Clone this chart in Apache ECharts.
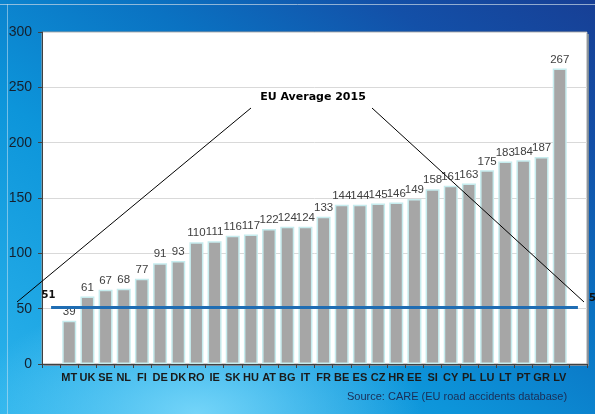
<!DOCTYPE html>
<html><head><meta charset="utf-8">
<script src="https://cdn.jsdelivr.net/npm/echarts@6/dist/echarts.min.js"></script>
<style>
html,body{margin:0;padding:0;}
#c{width:595px;height:414px;background:
  radial-gradient(ellipse 38% 30% at 33% 100%, rgba(120,215,250,0.95) 0%, rgba(120,215,250,0.5) 45%, rgba(120,215,250,0) 100%),
  linear-gradient(to top right, #2cb4ec 0%, #0d95da 38%, #0a72c2 62%, #1350a8 82%, #173f95 100%);}
</style></head>
<body><div id="c"></div>
<script>
var countries = ['MT','UK','SE','NL','FI','DE','DK','RO','IE','SK','HU','AT','BG','IT','FR','BE','ES','CZ','HR','EE','SI','CY','PL','LU','LT','PT','GR','LV'];
var values = [39,61,67,68,77,91,93,110,111,116,117,122,124,124,133,144,144,145,146,149,158,161,163,175,183,184,187,267];
var euAverage = 51;
var yTicks = [0,50,100,150,200,250,300];

var cats = [''].concat(countries).concat(['']);
var barData = ['-'].concat(values).concat(['-']);

var chart = echarts.init(document.getElementById('c'), null, {renderer:'canvas'});
chart.setOption({
  animation:false,
  grid:{left:42,right:8,top:32,bottom:50,show:true,backgroundColor:'#ffffff',borderColor:'#a0a0a0',borderWidth:1},
  xAxis:{type:'category',data:cats,
    axisLine:{lineStyle:{color:'#404040',width:1}},
    axisTick:{show:true,length:4,lineStyle:{color:'#404040'}},
    axisLabel:{interval:0,margin:8,color:'#1a1a1a',fontFamily:'Liberation Sans, Arial',fontWeight:'bold',fontSize:11}
  },
  yAxis:{type:'value',min:yTicks[0],max:yTicks[yTicks.length-1],interval:50,
    axisLine:{show:true,lineStyle:{color:'#404040'}},
    axisTick:{show:true,length:4,lineStyle:{color:'#404040'}},
    axisLabel:{color:'#15202e',fontFamily:'Liberation Sans, Arial',fontSize:14,margin:10},
    splitLine:{lineStyle:{color:'#d9d9d9',width:1}}
  },
  series:[{
    type:'bar',data:barData,barWidth:14,
    itemStyle:{color:'#a6a6a6',borderColor:'#c6ecee',borderWidth:1.5},
    label:{show:true,position:'top',distance:3,color:'#404040',fontFamily:'Liberation Sans, Arial',fontSize:11.5},
    markLine:{silent:true,symbol:'none',
      lineStyle:{color:'#1f6db3',width:3,type:'solid'},
      label:{show:false},
      data:[[{coord:[0,euAverage]},{coord:[cats.length-1,euAverage]}]],
      z:5
    }
  }],
  graphic:[
    {type:'rect',shape:{x:44,y:34,width:545,height:332},style:{fill:'#7a8a9a'},z:-1,silent:true},
    {type:'line',shape:{x1:0,y1:4.5,x2:595,y2:4.5},style:{stroke:'rgba(200,215,230,0.7)',lineWidth:1},silent:true},
    {type:'line',shape:{x1:7.5,y1:4,x2:7.5,y2:414},style:{stroke:'rgba(200,225,240,0.55)',lineWidth:1},silent:true},
    {type:'text',x:313,y:97,style:{text:'EU Average 2015',font:'bold 11px DejaVu Sans',fill:'#000',textAlign:'center',textVerticalAlign:'middle'},z:10},
    {type:'line',shape:{x1:251,y1:108,x2:17,y2:302},style:{stroke:'#000',lineWidth:1},z:10},
    {type:'line',shape:{x1:372,y1:108,x2:584,y2:302},style:{stroke:'#000',lineWidth:1},z:10},
    {type:'text',x:48.5,y:295,style:{text:String(euAverage),font:'bold 10px DejaVu Sans',fill:'#111',textAlign:'center',textVerticalAlign:'middle'},z:10},
    {type:'text',x:589,y:298,style:{text:String(euAverage),font:'bold 10px DejaVu Sans',fill:'#111',textAlign:'left',textVerticalAlign:'middle'},z:10},
    {type:'text',x:347,y:397,style:{text:'Source: CARE (EU road accidents database)',font:'11px Liberation Sans',fill:'#1b2d55',textAlign:'left',textVerticalAlign:'middle'},z:10}
  ]
});
</script></body></html>
